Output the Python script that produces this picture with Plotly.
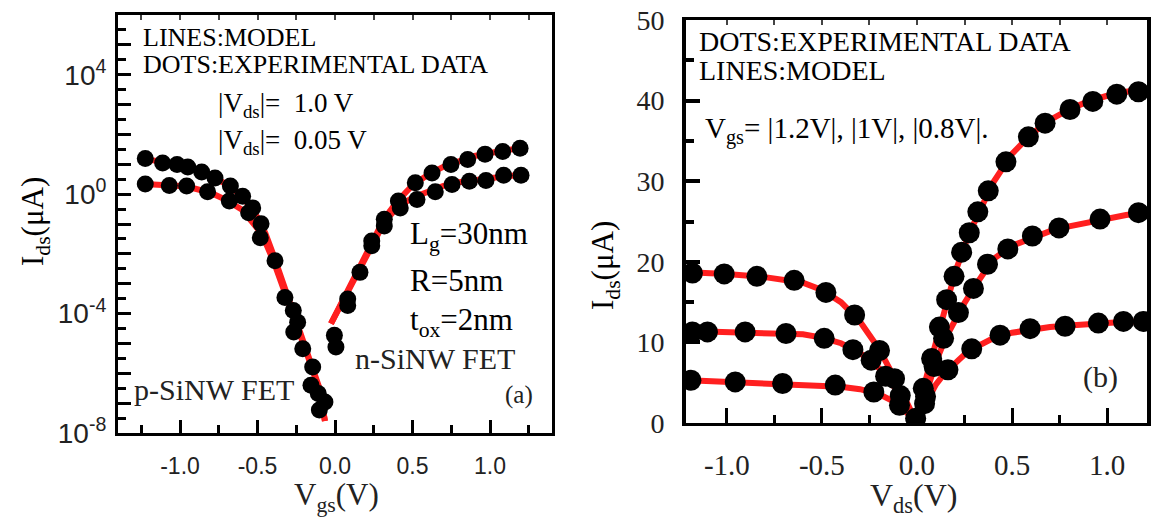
import numpy as np
import plotly.graph_objects as go

W, H = 1157, 524
SERIF = "Liberation Serif"
SANS = "Liberation Sans"
RED = "#ff1f1f"

# ---------------- panel (a): transfer characteristics, log scale ----------------
# p-SiNW FET, |Vds| = 1.0 V (experimental dots)
pa_hi_vgs = [-1.224, -1.112, -1.019, -0.950, -0.860, -0.774, -0.675, -0.596, -0.531,
             -0.477, -0.387, -0.269, -0.241, -0.208, -0.144, -0.065]
pa_hi_log = [1.19, 1.04, 0.99, 0.91, 0.74, 0.54, 0.27, -0.07, -0.46,
             -0.99, -2.23, -3.90, -4.29, -5.18, -5.79, -6.96]
# p-SiNW FET, |Vds| = 0.05 V
pa_lo_vgs = [-1.224, -1.069, -0.957, -0.822, -0.682, -0.557, -0.482, -0.323, -0.266,
             -0.155, -0.108, -0.101]
pa_lo_log = [0.34, 0.29, 0.27, 0.08, -0.23, -0.62, -1.46, -3.46, -4.62,
             -6.40, -6.68, -7.23]
# n-SiNW FET, |Vds| = 1.0 V
na_hi_vgs = [-0.004, 0.082, 0.161, 0.237, 0.318, 0.409, 0.518, 0.626, 0.748, 0.856,
             0.968, 1.082, 1.194]
na_hi_log = [-4.73, -3.51, -2.62, -1.57, -0.84, -0.23, 0.38, 0.71, 0.99, 1.16,
             1.34, 1.43, 1.54]
# n-SiNW FET, |Vds| = 0.05 V
na_lo_vgs = [0.006, 0.082, 0.237, 0.318, 0.421, 0.529, 0.647, 0.755, 0.867, 0.974,
             1.088, 1.200]
na_lo_log = [-5.12, -3.73, -1.73, -1.07, -0.46, -0.18, 0.08, 0.32, 0.43, 0.46,
             0.63, 0.63]

# model curves (a)
pm_vgs = [-1.23, -1.1, -1.0, -0.9, -0.8, -0.7, -0.6, -0.5, -0.45, -0.4, -0.35, -0.3,
          -0.25, -0.2, -0.15, -0.1, -0.065]
pm_hi_log = [1.18, 1.07, 0.98, 0.84, 0.62, 0.33, -0.06, -0.78, -1.3, -2.0, -2.75, -3.5,
             -4.25, -4.95, -5.7, -6.5, -7.6]
pm_lo_log = [0.34, 0.31, 0.27, 0.18, 0.04, -0.2, -0.52, -1.15, -1.6, -2.2, -2.9, -3.6,
             -4.35, -5.05, -5.8, -6.6, -7.6]
nm_vgs = [-0.026, 0.05, 0.1, 0.15, 0.2, 0.25, 0.3, 0.35, 0.4, 0.5, 0.6, 0.7, 0.8, 0.9,
          1.0, 1.1, 1.2]
nm_hi_log = [-4.34, -3.55, -3.0, -2.5, -1.95, -1.45, -1.0, -0.6, -0.25, 0.3, 0.65, 0.92,
             1.12, 1.28, 1.38, 1.47, 1.55]
nm_lo_log = [-4.34, -3.6, -3.1, -2.6, -2.05, -1.55, -1.12, -0.75, -0.45, -0.12, 0.1, 0.28,
             0.4, 0.48, 0.55, 0.6, 0.64]

ya_exp = [-8, -4, 0, 4]

# ---------------- panel (b): output characteristics, linear ----------------
vds_top = [-1.181, -1.014, -0.842, -0.646, -0.479, -0.328, -0.197, -0.118, -0.007,
           0.033, 0.077, 0.118, 0.156, 0.195, 0.235, 0.275, 0.320, 0.375, 0.468,
           0.586, 0.674, 0.805, 0.925, 1.051, 1.165]
ids_top = [18.6, 18.5, 18.2, 17.7, 16.2, 13.4, 9.0, 5.5, 0.6,
           4.3, 8.0, 11.9, 15.3, 18.2, 21.2, 23.6, 26.2, 28.8, 32.4,
           35.5, 37.2, 38.9, 39.9, 40.8, 41.1]
vds_mid = [-1.181, -1.102, -0.904, -0.689, -0.488, -0.337, -0.241, -0.165, -0.088,
           0.045, 0.090, 0.140, 0.218, 0.297, 0.371, 0.478, 0.607, 0.747, 0.963, 1.165]
ids_mid = [11.3, 11.3, 11.3, 11.1, 10.5, 9.1, 7.8, 5.8, 3.4,
           3.3, 7.0, 10.5, 13.7, 16.7, 19.7, 21.6, 23.2, 24.2, 25.3, 26.1]
vds_bot = [-1.189, -0.956, -0.707, -0.430, -0.227, -0.092,
           0.040, 0.163, 0.288, 0.437, 0.595, 0.779, 0.954, 1.086, 1.190]
ids_bot = [5.3, 5.1, 4.9, 4.7, 3.85, 2.2,
           2.4, 6.6, 9.2, 10.9, 11.7, 12.0, 12.4, 12.6, 12.6]

# model curves (b)
vm = [-1.2, -1.0, -0.8, -0.6, -0.5, -0.4, -0.3, -0.2, -0.1, 0.0, 0.05, 0.1, 0.15, 0.2,
      0.25, 0.3, 0.4, 0.5, 0.6, 0.7, 0.8, 0.9, 1.0, 1.1, 1.2]
im_top = [18.7, 18.5, 18.1, 17.4, 16.5, 15.0, 12.6, 9.2, 4.8, 0.0, 5.7, 10.2, 14.6, 18.6,
          22.0, 24.8, 29.8, 33.4, 35.8, 37.6, 38.9, 39.9, 40.6, 41.1, 41.4]
im_mid = [11.4, 11.3, 11.2, 11.0, 10.6, 9.9, 8.7, 6.8, 3.9, 0.0, 3.8, 7.6, 10.5, 12.9,
          14.9, 16.8, 20.3, 22.0, 23.0, 23.8, 24.4, 24.9, 25.4, 25.8, 26.1]
im_bot = [5.3, 5.1, 4.95, 4.8, 4.7, 4.5, 4.2, 3.6, 2.4, 0.0, 2.6, 4.8, 6.3, 7.5,
          8.5, 9.3, 10.5, 11.2, 11.6, 11.9, 12.1, 12.3, 12.45, 12.55, 12.6]

fig = go.Figure()

def line(x, y, xa, ya, width):
    fig.add_trace(go.Scatter(x=x, y=y, xaxis=xa, yaxis=ya, mode="lines",
                             line=dict(color=RED, width=width), hoverinfo="skip"))

def dots(x, y, xa, ya, size):
    fig.add_trace(go.Scatter(x=x, y=y, xaxis=xa, yaxis=ya, mode="markers",
                             marker=dict(color="black", size=size, line=dict(width=0))))

pow10 = lambda v: list(10.0 ** np.asarray(v))

for xs, ys in [(pm_vgs, pm_hi_log), (pm_vgs, pm_lo_log), (nm_vgs, nm_hi_log), (nm_vgs, nm_lo_log)]:
    line(xs, pow10(ys), "x", "y", 6)
for xs, ys in [(pa_hi_vgs, pa_hi_log), (pa_lo_vgs, pa_lo_log), (na_hi_vgs, na_hi_log), (na_lo_vgs, na_lo_log)]:
    dots(xs, pow10(ys), "x", "y", 17)

for ys in [im_top, im_mid, im_bot]:
    line(vm, ys, "x2", "y2", 6)
for xs, ys in [(vds_top, ids_top), (vds_mid, ids_mid), (vds_bot, ids_bot)]:
    dots(xs, ys, "x2", "y2", 21)

ax_common = dict(showline=True, linecolor="black", mirror=True, ticks="inside",
                 tickcolor="black", showgrid=False, zeroline=False, automargin=False)

xtick_vals = [-1.0, -0.5, 0.0, 0.5, 1.0]
xtick_text = ["-1.0", "-0.5", "0.0", "0.5", "1.0"]
quarter_ticks = [-1.25, -1.0, -0.75, -0.5, -0.25, 0.0, 0.25, 0.5, 0.75, 1.0, 1.25]

# short tick marks along the top edge of each frame
top_ticks = dict(side="top", ticks="inside", ticklen=5, tickwidth=1.5, tickcolor="#444",
                 tickvals=quarter_ticks, showticklabels=False, showline=False,
                 showgrid=False, zeroline=False, automargin=False)

fig.update_layout(
    width=W, height=H, autosize=False, margin=dict(l=0, r=0, t=0, b=0, pad=0),
    paper_bgcolor="white", plot_bgcolor="white", showlegend=False,
    xaxis=dict(ax_common, domain=[118 / W, 552 / W], anchor="y", range=[-1.4, 1.4],
               tickvals=xtick_vals, ticktext=xtick_text, ticklen=13, tickwidth=2.5,
               linewidth=3, ticklabelstandoff=10,
               minor=dict(tickvals=[-1.25, -0.75, -0.25, 0.25, 0.75, 1.25], ticks="inside",
                          ticklen=8, tickwidth=2.5, tickcolor="black"),
               tickfont=dict(family=SANS, size=23, color="#222")),
    yaxis=dict(ax_common, domain=[1 - 433 / H, 1 - 15 / H], anchor="x", type="log",
               range=[-8, 6], tickvals=pow10(range(-8, 7)),
               ticktext=[("10<sup>%d</sup>" % k) if k in ya_exp else "" for k in range(-8, 7)],
               ticklen=13, tickwidth=2.5, linewidth=3, ticklabelstandoff=3,
               minor=dict(tickvals=pow10(np.arange(-8, 6) + 0.5), ticks="inside",
                          ticklen=8, tickwidth=2.5, tickcolor="black"),
               tickfont=dict(family=SANS, size=28, color="#222")),
    xaxis3=dict(top_ticks, overlaying="x", matches="x", anchor="y"),
    xaxis2=dict(ax_common, domain=[686 / W, 1147 / W], anchor="y2", range=[-1.215, 1.21],
                tickvals=xtick_vals, ticktext=xtick_text, ticklen=15, tickwidth=3,
                linewidth=3, ticklabelstandoff=14,
                minor=dict(tickvals=[-0.75, -0.25, 0.25, 0.75], ticks="inside",
                           ticklen=8, tickwidth=3, tickcolor="black"),
                tickfont=dict(family=SERIF, size=29, color="#222")),
    xaxis4=dict(top_ticks, overlaying="x2", matches="x2", anchor="y2"),
    yaxis2=dict(ax_common, domain=[1 - 423 / H, 1 - 20 / H], anchor="x2", range=[0, 50],
                tickvals=[0, 10, 20, 30, 40, 50], ticklen=14, tickwidth=4, linewidth=4,
                ticklabelstandoff=12,
                minor=dict(tickvals=[5, 15, 25, 35, 45], ticks="inside",
                           ticklen=8, tickwidth=4, tickcolor="black"),
                tickfont=dict(family=SERIF, size=28, color="#222")),
)

# invisible carriers so the top tick axes are drawn
fig.add_trace(go.Scatter(x=[0], y=[1], xaxis="x3", yaxis="y", mode="markers",
                         marker=dict(opacity=0), hoverinfo="skip"))
fig.add_trace(go.Scatter(x=[0], y=[1], xaxis="x4", yaxis="y2", mode="markers",
                         marker=dict(opacity=0), hoverinfo="skip"))

def note(text, x, y, size, family=SERIF, anchor="left", angle=0, color="black"):
    fig.add_annotation(text=text, x=x / W, y=1 - y / H, xref="paper", yref="paper",
                       xanchor=anchor, yanchor="middle", showarrow=False, textangle=angle,
                       font=dict(family=family, size=size, color=color))

nb = "\u00a0"
# panel (a) labels
note("LINES:MODEL", 141, 38, 26)
note("DOTS:EXPERIMENTAL DATA", 141, 65, 26)
note("|V<sub>ds</sub>|=" + nb * 2 + "1.0 V", 216, 105, 27)
note("|V<sub>ds</sub>|=" + nb * 2 + "0.05 V", 216, 142, 27)
note("L<sub>g</sub>=30nm", 408, 236, 31)
note("R=5nm", 408, 280, 31)
note("t<sub>ox</sub>=2nm", 408, 322, 31)
note("n-SiNW FET", 353, 358, 30, color="#222")
note("p-SiNW FET", 132, 389, 30, color="#222")
note("(a)", 503, 395, 25, color="#222")
note("I<sub>ds</sub>(μA)", 35, 222, 31, anchor="center", angle=-90)
note("V<sub>gs</sub>(V)", 292, 497, 31, color="#222")

# panel (b) labels
note("DOTS:EXPERIMENTAL DATA", 697, 42, 28)
note("LINES:MODEL", 697, 70, 28)
note("V<sub>gs</sub>= |1.2V|, |1V|, |0.8V|.", 703, 130, 29)
note("(b)", 1081, 377, 30, color="#222")
note("I<sub>ds</sub>(μA)", 605, 266, 31, anchor="center", angle=-90)
note("V<sub>ds</sub>(V)", 868, 497, 32, color="#222")

fig.write_html("out.html")
